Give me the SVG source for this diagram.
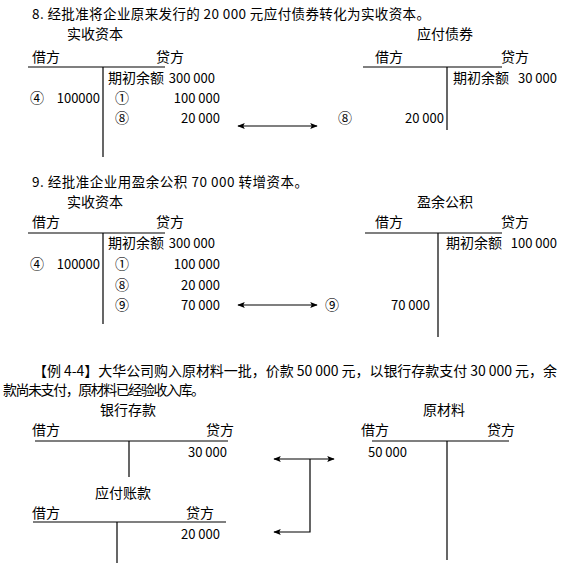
<svg xmlns="http://www.w3.org/2000/svg" width="562" height="563" viewBox="0 0 562 563">
<style>
text{font-family:"Noto Sans CJK SC","Noto Sans",sans-serif;font-size:14px;fill:#000}
.n{font-size:13px}
.c{font-size:14px}
.t{font-size:13.5px}
.e{text-anchor:end}
.ln{stroke:#000;stroke-width:1.2;fill:none}
.ar{stroke:#000;stroke-width:1.2;fill:none}
</style>
<defs>
<marker id="ah" viewBox="0 0 10 8" refX="9" refY="4" markerWidth="8" markerHeight="6" markerUnits="userSpaceOnUse" orient="auto-start-reverse">
<path d="M0,0 L10,4 L0,8 L2,4 Z" fill="#000"/>
</marker>
</defs>
<rect width="562" height="563" fill="#fff"/>

<text class="t" x="32" y="19" textLength="398" lengthAdjust="spacing">8. 经批准将企业原来发行的 20 000 元应付债券转化为实收资本。</text>
<text class="t" x="32" y="187" textLength="276" lengthAdjust="spacing">9. 经批准企业用盈余公积 70 000 转增资本。</text>
<text x="33" y="376" textLength="524" lengthAdjust="spacing">【例 4-4】大华公司购入原材料一批，价款 50 000 元，以银行存款支付 30 000 元，余</text>
<text x="3" y="395" textLength="202" lengthAdjust="spacing">款尚未支付，原材料已经验收入库。</text>

<g id="acc8-paidin">
<text x="67" y="39">实收资本</text>
<text x="32" y="62">借方</text>
<text x="156" y="62">贷方</text>
<line class="ln" x1="28" y1="67" x2="165" y2="67"/>
<line class="ln" x1="103" y1="67" x2="103" y2="157"/>
<text x="108" y="83">期初余额</text><text class="n e" x="215" y="83">300 000</text>
<text class="c" x="30" y="103">④</text><text class="n e" x="100" y="103">100000</text>
<text class="c" x="115" y="103">①</text><text class="n e" x="220" y="103">100 000</text>
<text class="c" x="115" y="123">⑧</text><text class="n e" x="220" y="123">20 000</text>
</g>

<g id="acc8-bonds">
<text x="417" y="39">应付债券</text>
<text x="375" y="62">借方</text>
<text x="501" y="62">贷方</text>
<line class="ln" x1="363" y1="67" x2="502" y2="67"/>
<line class="ln" x1="447" y1="67" x2="447" y2="130"/>
<text x="453" y="83">期初余额</text><text class="n e" x="557" y="83">30 000</text>
<text class="c" x="338" y="123">⑧</text><text class="n e" x="444" y="123">20 000</text>
</g>

<g id="acc9-paidin">
<text x="67" y="207">实收资本</text>
<text x="32" y="227">借方</text>
<text x="156" y="227">贷方</text>
<line class="ln" x1="28" y1="233" x2="165" y2="233"/>
<line class="ln" x1="103" y1="233" x2="103" y2="324"/>
<text x="108" y="248">期初余额</text><text class="n e" x="215" y="248">300 000</text>
<text class="c" x="30" y="269">④</text><text class="n e" x="100" y="269">100000</text>
<text class="c" x="115" y="269">①</text><text class="n e" x="220" y="269">100 000</text>
<text class="c" x="115" y="290">⑧</text><text class="n e" x="220" y="290">20 000</text>
<text class="c" x="115" y="310">⑨</text><text class="n e" x="220" y="310">70 000</text>
</g>

<g id="acc9-surplus">
<text x="417" y="207">盈余公积</text>
<text x="375" y="227">借方</text>
<text x="501" y="227">贷方</text>
<line class="ln" x1="365" y1="233" x2="502" y2="233"/>
<line class="ln" x1="438" y1="233" x2="438" y2="337"/>
<text x="446" y="248">期初余额</text><text class="n e" x="557" y="248">100 000</text>
<text class="c" x="325" y="310">⑨</text><text class="n e" x="430" y="310">70 000</text>
</g>

<g id="acc-bank">
<text x="100" y="415">银行存款</text>
<text x="32" y="435">借方</text>
<text x="206" y="435">贷方</text>
<line class="ln" x1="35" y1="441" x2="228" y2="441"/>
<line class="ln" x1="129" y1="441" x2="129" y2="477"/>
<text class="n e" x="227" y="457">30 000</text>
</g>

<g id="acc-payable">
<text x="95" y="498">应付账款</text>
<text x="32" y="518">借方</text>
<text x="186" y="518">贷方</text>
<line class="ln" x1="33" y1="522" x2="226" y2="522"/>
<line class="ln" x1="117" y1="522" x2="117" y2="563"/>
<text class="n e" x="220" y="539">20 000</text>
</g>

<g id="acc-material">
<text x="423" y="415">原材料</text>
<text x="361" y="435">借方</text>
<text x="487" y="435">贷方</text>
<line class="ln" x1="372" y1="441" x2="509" y2="441"/>
<line class="ln" x1="447" y1="441" x2="447" y2="560"/>
<text class="n" x="368" y="457">50 000</text>
</g>

<g id="connectors">
<line class="ar" x1="238" y1="126" x2="317" y2="126" marker-start="url(#ah)" marker-end="url(#ah)"/>
<line class="ar" x1="238" y1="305" x2="317" y2="305" marker-start="url(#ah)" marker-end="url(#ah)"/>
<line class="ar" x1="274" y1="459" x2="334" y2="459" marker-start="url(#ah)" marker-end="url(#ah)"/>
<polyline class="ar" points="310,459 310,532 274,532" marker-end="url(#ah)"/>
</g>
</svg>
